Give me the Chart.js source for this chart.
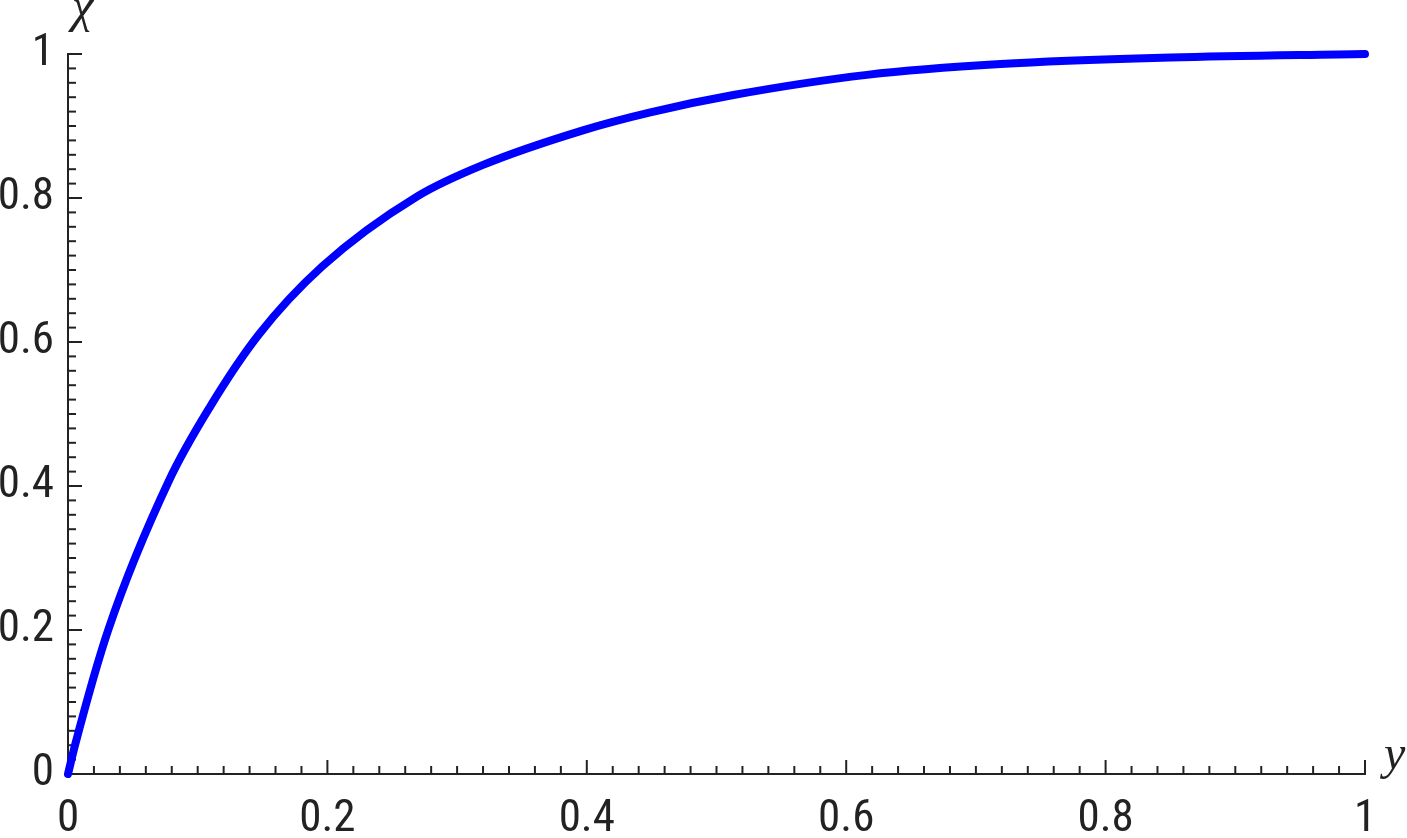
<!DOCTYPE html>
<html>
<head>
<meta charset="utf-8">
<script src="https://cdn.jsdelivr.net/npm/chart.js@4/dist/chart.umd.min.js"></script>
<style>
  html, body { margin: 0; padding: 0; background: #fff; }
  #wrap { width: 1407px; height: 838px; }
</style>
</head>
<body>
<div id="wrap"><canvas id="chiChart" width="1407" height="838"></canvas></div>
<script>
// values
const yValues = [0, 0.0054, 0.031, 0.078, 0.1095, 0.147, 0.196, 0.269,
  0.320, 0.397, 0.449, 0.513, 0.616, 0.719, 0.85, 1.0];
const chiValues = [0, 0.040, 0.200, 0.408, 0.510, 0.610, 0.705, 0.802,
  0.846, 0.894, 0.919, 0.943, 0.971, 0.986, 0.995, 1.0];
const xTickLabels = ['0', '0.2', '0.4', '0.6', '0.8', '1'];
const yTickLabels = ['0', '0.2', '0.4', '0.6', '0.8', '1'];

const axisColor = '#222';
const tickFont = { family: "'Liberation Sans Narrow', 'Roboto Condensed', 'Liberation Sans', sans-serif", size: 45 };

// inward ticks every 0.02, longer at every 0.2
const ticksPlugin = {
  id: 'inwardTicks',
  beforeDatasetsDraw(chart) {
    const ctx = chart.ctx;
    const xs = chart.scales.x, ys = chart.scales.y;
    const x0 = xs.getPixelForValue(0), y0 = ys.getPixelForValue(0);
    ctx.save();
    ctx.strokeStyle = axisColor;
    ctx.lineWidth = 2;
    for (let i = 1; i <= 50; i++) {
      const len = i % 10 === 0 ? 14 : 8;
      const px = xs.getPixelForValue(i / 50);
      ctx.beginPath(); ctx.moveTo(px, y0); ctx.lineTo(px, y0 - len); ctx.stroke();
      const py = ys.getPixelForValue(i / 50);
      ctx.beginPath(); ctx.moveTo(x0, py); ctx.lineTo(x0 + len, py); ctx.stroke();
    }
    ctx.restore();
  },
  afterDraw(chart) {
    const ctx = chart.ctx;
    ctx.save();
    ctx.fillStyle = axisColor;
    ctx.font = "italic 48px 'Liberation Serif', 'DejaVu Serif', serif";
    ctx.textBaseline = 'alphabetic';
    ctx.fillText('χ', 72, 22);
    ctx.fillText('y', 1384, 769);
    ctx.restore();
  }
};

new Chart(document.getElementById('chiChart').getContext('2d'), {
  type: 'scatter',
  data: {
    datasets: [{
      data: yValues.map((v, i) => ({ x: v, y: chiValues[i] })),
      showLine: true,
      borderColor: '#0000ff',
      borderWidth: 8,
      borderCapStyle: 'round',
      borderJoinStyle: 'round',
      cubicInterpolationMode: 'monotone',
      pointRadius: 0,
      clip: false
    }]
  },
  options: {
    responsive: false,
    animation: false,
    events: [],
    layout: { padding: { top: 54, right: 42, left: 0, bottom: 0 } },
    plugins: { legend: { display: false }, tooltip: { enabled: false } },
    scales: {
      x: {
        type: 'linear', min: 0, max: 1,
        grid: { display: false, drawTicks: false },
        border: { display: true, color: axisColor, width: 2 },
        ticks: {
          stepSize: 0.2, color: axisColor, font: tickFont, padding: 19, maxRotation: 0,
          callback: (v, i) => xTickLabels[i]
        },
        afterFit: s => { s.height = 64; }
      },
      y: {
        type: 'linear', min: 0, max: 1,
        grid: { display: false, drawTicks: false },
        border: { display: true, color: axisColor, width: 2 },
        ticks: {
          stepSize: 0.2, color: axisColor, font: tickFont, padding: 14,
          callback: (v, i) => yTickLabels[i]
        },
        afterFit: s => { s.width = 68; }
      }
    }
  },
  plugins: [ticksPlugin]
});
</script>
</body>
</html>
